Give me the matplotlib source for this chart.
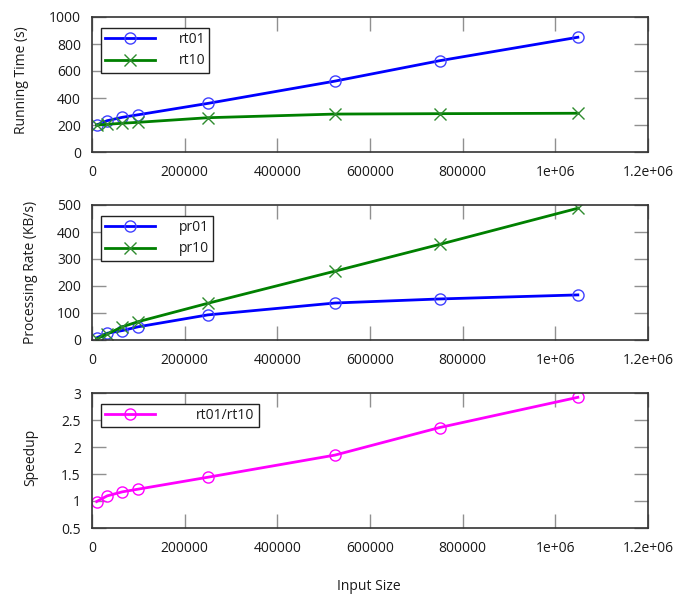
import matplotlib
matplotlib.use("Agg")
import matplotlib.pyplot as plt
from matplotlib.ticker import FixedLocator

plt.rcParams['font.family'] = ['Open Sans', 'DejaVu Sans']

# Data
sizes = [10000, 32768, 65536, 100000, 250000, 524288, 750000, 1048576]
rt01 = [200, 232, 257, 276, 360, 525, 676, 850]
rt10 = [200, 205, 213, 220, 254, 281, 284, 287]
pr01 = [8, 25, 35, 49, 93, 137, 152, 167]
pr10 = [4, 22, 49, 68, 136, 255, 354, 488]
speedup = [0.99, 1.095, 1.17, 1.22, 1.44, 1.85, 2.36, 2.92]

x_ticks = [0, 200000, 400000, 600000, 800000, 1000000, 1200000]
x_tick_labels = ["0", "200000", "400000", "600000", "800000", "1e+06", "1.2e+06"]

W, H = 689, 597
fig = plt.figure(figsize=(W / 100, H / 100), dpi=100)

def px_axes(left, top, right, bottom):
    return fig.add_axes([left / W, 1 - bottom / H, (right - left) / W, (bottom - top) / H])

BLUE = '#0000ff'
BLUE_M = '#4040ff'
GREEN = '#008000'
GREEN_M = '#2e8b2e'
MAG = '#ff00ff'
FS = 10
TXT = '#1a1a1a'

def style(ax, ylim, yticks, ylabels):
    ax.set_xlim(0, 1200000)
    ax.set_ylim(*ylim)
    ax.xaxis.set_major_locator(FixedLocator(x_ticks))
    ax.set_xticklabels(x_tick_labels)
    ax.yaxis.set_major_locator(FixedLocator(yticks))
    ax.set_yticklabels(ylabels)
    ax.tick_params(direction='in', length=10, width=1, color='#909090',
                   top=True, right=True, labelsize=FS, labelcolor=TXT)
    ax.tick_params(axis='x', pad=9.5)
    ax.tick_params(axis='y', pad=8)
    for s in ax.spines.values():
        s.set_color('#333333')
        s.set_linewidth(1.2)

lw = 2.0
ms = 8

ax1 = px_axes(92, 17, 648, 152)
ax1.plot(sizes, rt01, color=BLUE, lw=lw, marker='o', ms=ms, mfc='none', mec=BLUE_M, mew=1.0, label='rt01')
ax1.plot(sizes, rt10, color=GREEN, lw=lw, marker='x', ms=ms, mec=GREEN_M, mew=1.0, label='rt10')
style(ax1, (0, 1000), [0, 200, 400, 600, 800, 1000], ["0", "200", "400", "600", "800", "1000"])

ax2 = px_axes(92, 205, 648, 340)
ax2.plot(sizes, pr01, color=BLUE, lw=lw, marker='o', ms=ms, mfc='none', mec=BLUE_M, mew=1.0, label='pr01')
ax2.plot(sizes, pr10, color=GREEN, lw=lw, marker='x', ms=ms, mec=GREEN_M, mew=1.0, label='pr10')
style(ax2, (0, 500), [0, 100, 200, 300, 400, 500], ["0", "100", "200", "300", "400", "500"])

ax3 = px_axes(92, 393, 648, 528)
ax3.plot(sizes, speedup, color=MAG, lw=lw, marker='o', ms=ms, mfc='none', mec=MAG, mew=1.0, label='rt01/rt10')
style(ax3, (0.5, 3), [0.5, 1, 1.5, 2, 2.5, 3], ["0.5", "1", "1.5", "2", "2.5", "3"])

def legend(ax, pad):
    leg = ax.legend(loc='upper left', bbox_to_anchor=(0.016, 0.918), borderaxespad=0,
                    fontsize=FS, handlelength=3.6, handletextpad=pad, labelspacing=0.45,
                    fancybox=False, framealpha=1, edgecolor='#222222', borderpad=0.3)
    leg.get_frame().set_linewidth(1.0)
    for t in leg.get_texts():
        t.set_color(TXT)

legend(ax1, 1.7)
legend(ax2, 1.7)
legend(ax3, 2.95)

fig.text(22 / W, 1 - 80 / H, "Running Time (s)", rotation=90, ha='center', va='center', fontsize=FS, color=TXT)
fig.text(31 / W, 1 - 272 / H, "Processing Rate (KB/s)", rotation=90, ha='center', va='center', fontsize=FS, color=TXT)
fig.text(31 / W, 1 - 457 / H, "Speedup", rotation=90, ha='center', va='center', fontsize=FS, color=TXT)
fig.text(369 / W, 1 - 587 / H, "Input Size", ha='center', va='center', fontsize=FS, color=TXT)

fig.savefig("out.png", dpi=100, facecolor='white')
